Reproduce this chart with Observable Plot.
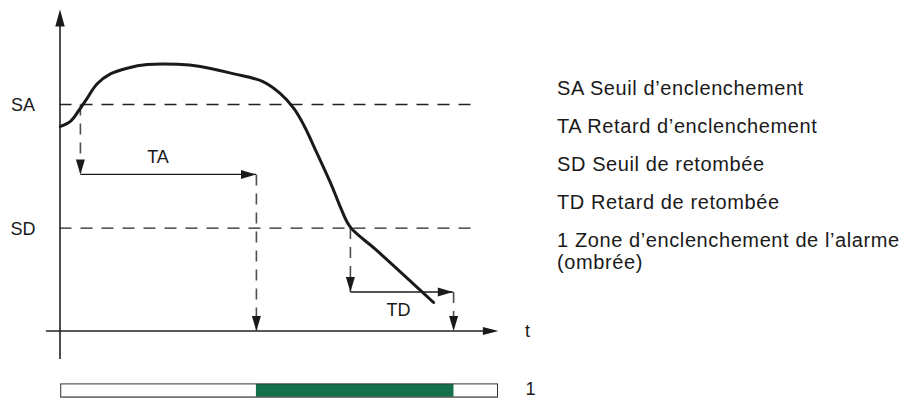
<!DOCTYPE html>
<html><head><meta charset="utf-8">
<script src="https://cdn.jsdelivr.net/npm/d3@7"></script>
<script src="https://cdn.jsdelivr.net/npm/@observablehq/plot@0.6"></script>
<style>
html,body{margin:0;padding:0;background:#fff;}
#wrap{position:relative;width:904px;height:398px;overflow:hidden;font-family:"Liberation Sans",Arial,Helvetica,sans-serif;}
#chart{position:absolute;left:0;top:0;}
#legend{position:absolute;left:557px;top:77px;font-size:20px;color:#1a1a1a;letter-spacing:0.6px;}
#legend div{white-space:nowrap;line-height:22px;margin-bottom:16px;}
</style></head><body>
<div id="wrap"><div id="chart"></div><div id="legend"></div></div>
<script>
// Signal curve (time, value)
const curveTime  = [0.1, 2.6, 4.7, 6.4, 9.3, 12.6, 16.8, 21.8, 29.3, 35.1, 43.5, 50.6, 55.1, 58.5, 61.0, 64.3, 68.1, 70.1, 72.6, 78.9, 93.4];
const curveValue = [68.2, 69.9, 73.5, 76.8, 82.4, 85.7, 87.6, 88.8, 88.9, 88.2, 85.7, 83.2, 79.1, 74.1, 68.5, 59.1, 47.9, 41.3, 34.6, 27.2, 9.5];

// Thresholds
const thresholdNames  = ["SA", "SD"];
const thresholdValues = [75.5, 34.3];
const thresholdEnd = 104.4;

// Delay arrows: start/end time and value, dashed or not
const arrowX1 = [5.1, 5.1, 49.1, 72.6, 72.6, 98.4];
const arrowY1 = [75.5, 52.2, 52.2, 34.3, 13.0, 13.0];
const arrowX2 = [5.1, 49.0, 49.1, 72.6, 98.2, 98.4];
const arrowY2 = [52.2, 52.2, 0, 13.0, 13.0, 0];
const arrowDashed = [true, false, true, true, false, true];

// Delay labels
const delayNames = ["TA", "TD"];
const delayX = [24.5, 84.6];
const delayY = [58, 7];

// Axes extents
const axisTimeExtent  = [-3.4, 109.6];
const axisValueExtent = [-9.5, 107.2];
const axisTimeLabel = "t";

// Alarm zone bar
const barStart = 0.3, barEnd = 109.5;
const barValueRange = [-22.2, -17.8];
const zoneStart = 49.1, zoneEnd = 98.5;
const zoneLabel = "1";

// Legend lines
const legendLines = [
  "SA Seuil d’enclenchement",
  "TA Retard d’enclenchement",
  "SD Seuil de retombée",
  "TD Retard de retombée",
  "1 Zone d’enclenchement de l’alarme\n(ombrée)"
];

const curve = curveTime.map((t, i) => ({t, v: curveValue[i]}));
const thresholds = thresholdNames.map((name, i) => ({name, value: thresholdValues[i]}));
const arrows = arrowX1.map((x1, i) => ({x1, y1: arrowY1[i], x2: arrowX2[i], y2: arrowY2[i], dashed: arrowDashed[i]}));
const delays = delayNames.map((name, i) => ({name, x: delayX[i], y: delayY[i]}));

function head(dir, L, W) {
  return {draw(ctx) {
    if (dir === "up") { ctx.moveTo(0, 0); ctx.lineTo(-W/2, L); ctx.lineTo(W/2, L); }
    else if (dir === "down") { ctx.moveTo(0, 0); ctx.lineTo(-W/2, -L); ctx.lineTo(W/2, -L); }
    else { ctx.moveTo(0, 0); ctx.lineTo(-L, -W/2); ctx.lineTo(-L, W/2); }
    ctx.closePath();
  }};
}
const dirOf = d => d.x2 > d.x1 ? "right" : (d.y2 < d.y1 ? "down" : "up");

const ink = "#1a1a1a";
const fontFamily = '"Liberation Sans", Arial, Helvetica, sans-serif';

const marks = [
  // alarm zone bar
  Plot.rect([0], {x1: barStart, x2: barEnd, y1: barValueRange[0], y2: barValueRange[1], fill: "white"}),
  Plot.rect([0], {x1: zoneStart, x2: zoneEnd, y1: barValueRange[0], y2: barValueRange[1], fill: "#13714b"}),
  Plot.rect([0], {x1: barStart, x2: barEnd, y1: barValueRange[0], y2: barValueRange[1], fill: "none", stroke: "#333", strokeWidth: 1}),
  Plot.ruleY([barValueRange[0]], {x1: barStart, x2: barEnd, stroke: "#777", strokeWidth: 2}),
  Plot.text([zoneLabel], {x: 117.6, y: -20.2, text: d => d, fontSize: 18, fill: ink, dy: -2.5}),

  // thresholds
  Plot.ruleY(thresholds, {y: "value", x1: 0, x2: thresholdEnd, stroke: "#222", strokeWidth: 1.3, strokeDasharray: "12,9"}),
  Plot.text(thresholds, {x: -9.25, y: "value", text: "name", fontSize: 18, fill: ink, dy: 1}),

  // axes
  Plot.ruleX([0], {y1: axisValueExtent[0], y2: axisValueExtent[1] - 5, stroke: "#222", strokeWidth: 1.6}),
  Plot.ruleY([0], {x1: axisTimeExtent[0], x2: axisTimeExtent[1] - 3, stroke: "#222", strokeWidth: 1.6}),
  Plot.dot([0], {x: 0, y: axisValueExtent[1], symbol: head("up", 17, 9.5), fill: ink, stroke: "none"}),
  Plot.dot([0], {x: axisTimeExtent[1], y: 0, symbol: head("right", 15.5, 8), fill: ink, stroke: "none"}),
  Plot.text([axisTimeLabel], {x: 116.9, y: 0, text: d => d, fontSize: 18, fill: ink}),

  // delay arrows
  Plot.link(arrows.filter(d => d.dashed), {x1: "x1", y1: "y1", x2: "x2", y2: "y2", stroke: "#4d4d4d", strokeWidth: 1.6, strokeDasharray: "11,8"}),
  Plot.link(arrows.filter(d => !d.dashed), {x1: "x1", y1: "y1", x2: "x2", y2: "y2", stroke: ink, strokeWidth: 1.3}),
  ...["up", "down", "right"].map(dir =>
    Plot.dot(arrows.filter(d => dirOf(d) === dir), {x: "x2", y: "y2", symbol: head(dir, 15, 9), fill: ink, stroke: "none"})),
  Plot.text(delays, {x: "x", y: "y", text: "name", fontSize: 18, fill: ink}),

  // signal curve
  Plot.line(curve, {x: "t", y: "v", curve: "catmull-rom", stroke: ink, strokeWidth: 3, strokeLinecap: "round"})
];

const chart = Plot.plot({
  width: 904, height: 398,
  marginTop: 0, marginRight: 0, marginBottom: 0, marginLeft: 0,
  x: {domain: [-15, 211], range: [-0.5, 903.5], axis: null},
  y: {domain: [-22.5, 110], range: [398, 0.5], axis: null},
  style: {fontFamily, background: "white", overflow: "visible"},
  marks
});
document.getElementById("chart").appendChild(chart);

const legend = document.getElementById("legend");
for (const line of legendLines) {
  const div = document.createElement("div");
  line.split("\n").forEach((part, i) => {
    if (i) div.appendChild(document.createElement("br"));
    div.appendChild(document.createTextNode(part));
  });
  legend.appendChild(div);
}
</script>
</body></html>
